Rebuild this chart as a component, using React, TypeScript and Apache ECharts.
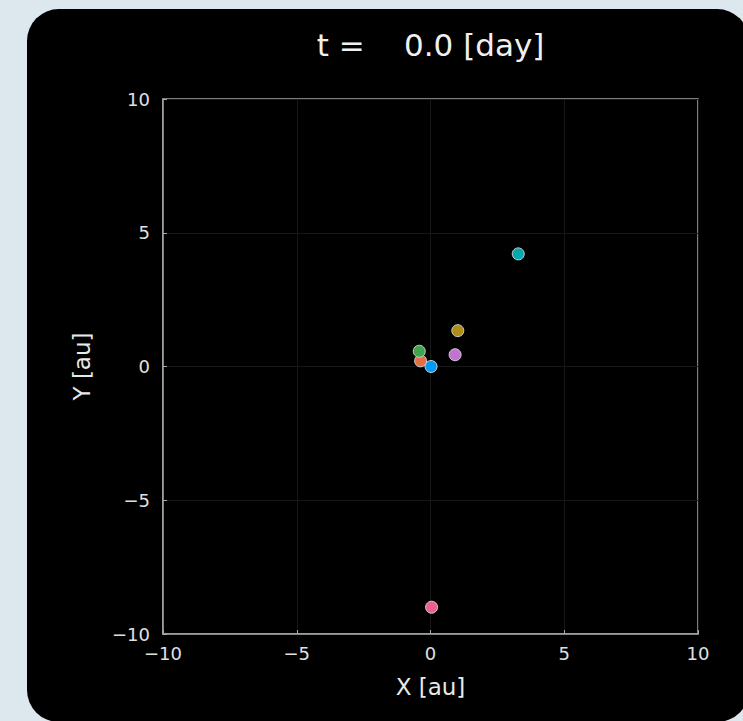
import React, { useEffect, useRef } from "react";
import * as echarts from "echarts";

const bodies = ["Sun", "Mercury", "Venus", "Earth", "Mars", "Jupiter", "Saturn"];
const xValues = [0.02, -0.37, -0.42, 0.92, 1.02, 3.28, 0.04];
const yValues = [0.0, 0.21, 0.57, 0.44, 1.34, 4.21, -9.0];
const colors = ["#009AFA", "#E36F47", "#3EA44E", "#C371D2", "#AC8E18", "#00A9AD", "#ED5E93"];
const axisTicks = [-10, -5, 0, 5, 10];
const titleText = "t =    0.0 [day]";
const xName = "X [au]";
const yName = "Y [au]";

const FONT = "DejaVu Sans";

export default function App() {
  const ref = useRef<HTMLDivElement>(null);
  useEffect(() => {
    if (!ref.current) return;
    const chart = echarts.init(ref.current, null, { renderer: "svg" });
    const gl = { left: 163, top: 99, width: 535, height: 535 };
    const fmt = (v: number) => (axisTicks.includes(v) ? String(v).replace("-", "\u2212") : "");
    const axisCommon = {
      min: axisTicks[0],
      max: axisTicks[axisTicks.length - 1],
      interval: 5,
      axisLine: { show: true, onZero: false, lineStyle: { color: "#a8a8a8", width: 1.5 } },
      axisTick: { show: true, inside: true, length: 4, lineStyle: { color: "#a8a8a8", width: 1 } },
      splitLine: { show: true, lineStyle: { color: "#171717", width: 1 } },
      axisLabel: { color: "#e0e0e0", fontSize: 18, fontFamily: FONT, formatter: fmt },
    };
    chart.setOption({
      animation: false,
      backgroundColor: "#dde8ee",
      graphic: [
        {
          type: "rect",
          z: -10,
          silent: true,
          shape: { x: 27, y: 9, width: 722, height: 713, r: 32 },
          style: { fill: "#000000" },
        },
        {
          type: "text",
          x: gl.left + gl.width / 2,
          y: 45,
          style: {
            text: titleText,
            fill: "#f0f0f0",
            font: `31px '${FONT}'`,
            textAlign: "center",
            textVerticalAlign: "middle",
          },
        },
        {
          type: "text",
          x: gl.left + gl.width / 2,
          y: 687,
          style: {
            text: xName,
            fill: "#e8e8e8",
            font: `23px '${FONT}'`,
            textAlign: "center",
            textVerticalAlign: "middle",
          },
        },
        {
          type: "text",
          x: 82,
          y: gl.top + gl.height / 2,
          rotation: Math.PI / 2,
          style: {
            text: yName,
            fill: "#e8e8e8",
            font: `23px '${FONT}'`,
            textAlign: "center",
            textVerticalAlign: "middle",
          },
        },
      ],
      grid: {
        ...gl,
        show: true,
        borderColor: "#a8a8a8",
        borderWidth: 1.5,
        backgroundColor: "transparent",
      },
      xAxis: { type: "value", ...axisCommon, axisLabel: { ...axisCommon.axisLabel, margin: 10 } },
      yAxis: { type: "value", ...axisCommon, axisLabel: { ...axisCommon.axisLabel, margin: 13 } },
      series: bodies.map((name, i) => ({
        name,
        type: "scatter",
        symbol: "circle",
        symbolSize: 12,
        itemStyle: { color: colors[i], borderColor: "#d0d0d0", borderWidth: 1, opacity: 1 },
        data: [[xValues[i], yValues[i]]],
      })),
    });
    return () => chart.dispose();
  }, []);
  return (
    <div
      ref={ref}
      style={{ position: "absolute", left: 0, top: 0, width: 743, height: 721 }}
    />
  );
}
